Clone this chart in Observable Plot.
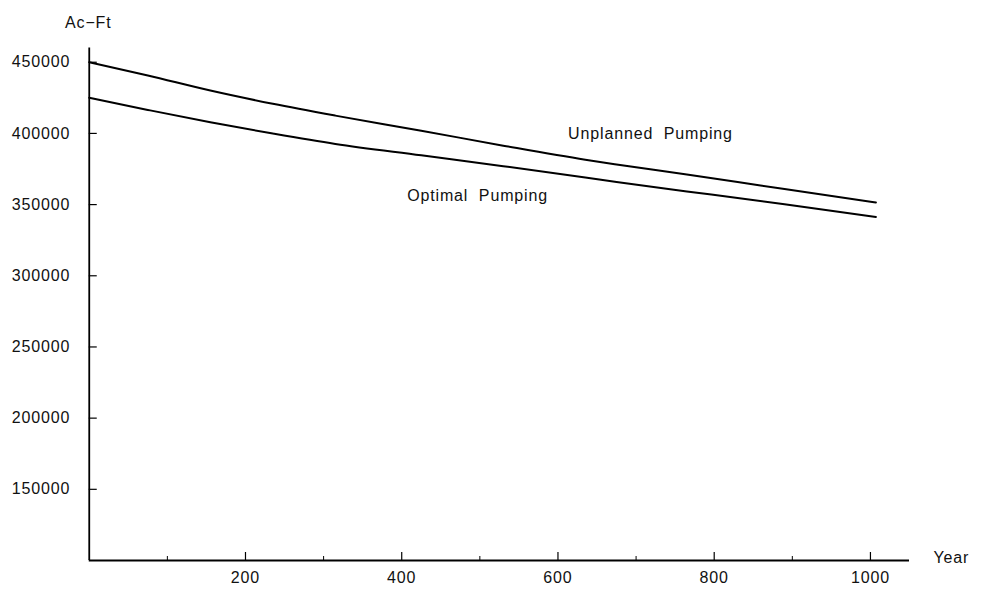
<!DOCTYPE html>
<html>
<head>
<meta charset="utf-8">
<script src="https://cdn.jsdelivr.net/npm/d3@7"></script>
<script src="https://cdn.jsdelivr.net/npm/@observablehq/plot@0.6"></script>
<style>
  html, body { margin: 0; padding: 0; background: #fff; }
  svg text { white-space: pre; }
</style>
</head>
<body>
<div id="chart"></div>
<script>
const years = [0, 75, 155, 235, 315, 425, 530, 635, 675, 765, 830, 890, 1007];
const unplanned = [450000, 440700, 430100, 420800, 412500, 401900, 391400, 381500, 378200, 371200, 365900, 360900, 351500];
const optimal = [425000, 416500, 407800, 399900, 392600, 384600, 377000, 369000, 365800, 359200, 354700, 350300, 341300];

const yTicks = [150000, 200000, 250000, 300000, 350000, 400000, 450000];
const xMajor = [200, 400, 600, 800, 1000];
const xMinor = [100, 300, 500, 700, 900];

const seriesLabels = [
  {name: "Unplanned  Pumping", year: 613, value: 400000},
  {name: "Optimal  Pumping", year: 407, value: 356000}
];

const rows = [];
years.forEach((yr, i) => {
  rows.push({series: "Unplanned", year: yr, value: unplanned[i]});
  rows.push({series: "Optimal", year: yr, value: optimal[i]});
});

const W = 981, H = 598;
const mL = 88.75, mR = 72, mT = 47.5, mB = 38;
const plotW = W - mL - mR, plotH = H - mT - mB;
const font = "Liberation Sans, Arial, Helvetica, sans-serif";

const chart = Plot.plot({
  width: W,
  height: H,
  marginLeft: mL,
  marginRight: mR,
  marginTop: mT,
  marginBottom: mB,
  style: {fontFamily: font, fontSize: "16px", background: "#fff", color: "#111", letterSpacing: "0.85px"},
  x: {domain: [0, 1050], axis: null},
  y: {domain: [100000, 460000], axis: null},
  marks: [
    Plot.line(rows, {x: "year", y: "value", z: "series", stroke: "#000", strokeWidth: 2, curve: "monotone-x"}),
    Plot.ruleX([0], {stroke: "#000", strokeWidth: 1.8}),
    Plot.ruleY([100000], {stroke: "#000", strokeWidth: 1.8}),
    Plot.tickY(yTicks, {y: d => d, stroke: "#000", strokeWidth: 1.2, insetRight: plotW - 8}),
    Plot.tickX(xMajor, {x: d => d, stroke: "#000", strokeWidth: 1.2, insetTop: plotH - 8}),
    Plot.tickX(xMinor, {x: d => d, stroke: "#000", strokeWidth: 1, insetTop: plotH - 4}),
    Plot.text(yTicks, {y: d => d, text: d => String(d), frameAnchor: "left", dx: -19, textAnchor: "end", fill: "#111"}),
    Plot.text(xMajor, {x: d => d, text: d => String(d), frameAnchor: "bottom", dy: 22, fill: "#111"}),
    Plot.text(["Ac\u2212Ft"], {frameAnchor: "top-left", dx: -1, dy: -31.5, textAnchor: "middle", fill: "#111"}),
    Plot.text(["Year"], {frameAnchor: "bottom-right", dx: 24, dy: 2, textAnchor: "start", fill: "#111"}),
    Plot.text(seriesLabels, {x: "year", y: "value", text: "name", textAnchor: "start", fill: "#111"})
  ]
});
document.getElementById("chart").appendChild(chart);
</script>
</body>
</html>
